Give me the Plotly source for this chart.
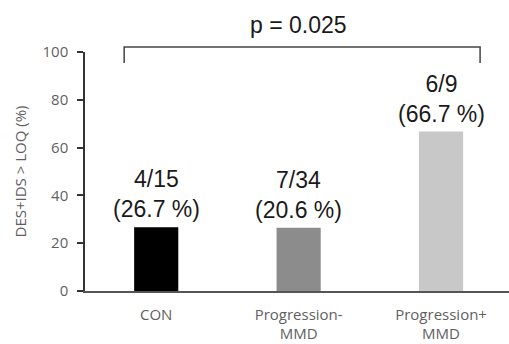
import plotly.graph_objects as go

categories = ["CON", "Progression-<br>MMD", "Progression+<br>MMD"]
values = [26.7, 26.5, 66.7]
counts = ["4/15", "7/34", "6/9"]
pct_labels = ["(26.7 %)", "(20.6 %)", "(66.7 %)"]
colors = ["#000000", "#8c8c8c", "#c8c8c8"]
y_ticks = [0, 20, 40, 60, 80, 100]
p_text = "p = 0.025"

fig = go.Figure()
fig.add_trace(go.Bar(
    x=list(range(len(categories))), y=values,
    marker=dict(color=colors, line=dict(width=0)),
    width=0.31, hoverinfo="skip",
))

for i, (c, p, v) in enumerate(zip(counts, pct_labels, values)):
    fig.add_annotation(
        x=i, y=v, xref="x", yref="y", text=f"{c}<br>{p}", showarrow=False,
        yanchor="bottom", yshift=3,
        font=dict(family="Liberation Sans, Arial", size=23, color="#1a1a1a"),
    )

# significance bracket
x0, x1 = -0.225, 2.274
fig.add_shape(type="path", xref="x", yref="paper",
              path=f"M {x0} 0.954 L {x0} 1.021 L {x1} 1.021 L {x1} 0.954",
              line=dict(color="#444444", width=1.5))
fig.add_annotation(x=1, y=1.113, xref="x", yref="paper", text=p_text, showarrow=False,
                   yanchor="middle",
                   font=dict(family="Liberation Sans, Arial", size=23, color="#1a1a1a"))

fig.update_layout(
    width=509, height=344,
    margin=dict(l=85, r=0, t=52, b=53),
    paper_bgcolor="white", plot_bgcolor="white",
    showlegend=False,
    xaxis=dict(
        range=[-0.5, 2.477], tickmode="array",
        tickvals=list(range(len(categories))), ticktext=categories,
        showline=True, linecolor="#555555", linewidth=1.5,
        showgrid=False, zeroline=False, ticks="", ticklabelstandoff=9,
        tickfont=dict(family="Open Sans", size=15, color="#5f5f5f"),
    ),
    yaxis=dict(
        range=[0, 100], tickvals=y_ticks,
        showline=True, linecolor="#333333", linewidth=1.5,
        ticks="outside", ticklen=6, tickcolor="#333333", tickwidth=1.5,
        ticklabelstandoff=6,
        showgrid=False, zeroline=False,
        tickfont=dict(family="Open Sans", size=15, color="#5f5f5f"),
        title=dict(text="DES+IDS > LOQ (%)", standoff=12,
                   font=dict(family="Open Sans", size=15, color="#5f5f5f")),
    ),
)

fig.write_html("out.html", config={"displayModeBar": False},
               post_script="document.body.style.margin='0';")
